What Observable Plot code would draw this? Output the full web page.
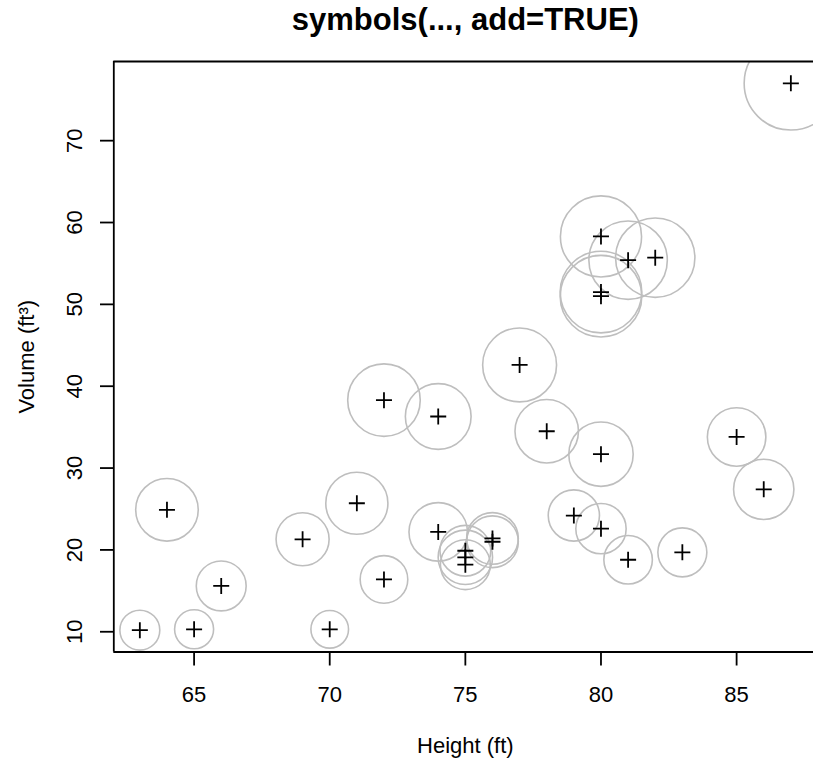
<!DOCTYPE html>
<html>
<head>
<meta charset="utf-8">
<script src="https://cdn.jsdelivr.net/npm/d3@7"></script>
<script src="https://cdn.jsdelivr.net/npm/@observablehq/plot@0.6"></script>
<style>
  html, body { margin: 0; padding: 0; background: white; }
  #chart { width: 813px; height: 760px; overflow: hidden; }
</style>
</head>
<body>
<div id="chart"></div>
<script>
// trees data (R datasets): Girth (in), Height (ft), Volume (ft^3)
const girth  = [8.3, 8.6, 8.8, 10.5, 10.7, 10.8, 11.0, 11.0, 11.1, 11.2, 11.3, 11.4, 11.4, 11.7, 12.0, 12.9, 12.9, 13.3, 13.7, 13.8, 14.0, 14.2, 14.5, 16.0, 16.3, 17.3, 17.5, 17.9, 18.0, 18.0, 20.6];
const height = [70, 65, 63, 72, 81, 83, 66, 75, 80, 75, 79, 76, 76, 69, 75, 74, 85, 86, 71, 64, 78, 80, 74, 72, 77, 81, 82, 80, 80, 80, 87];
const volume = [10.3, 10.3, 10.2, 16.4, 18.8, 19.7, 15.6, 18.2, 22.6, 19.9, 24.2, 21.0, 21.4, 21.3, 19.1, 22.2, 33.8, 27.4, 25.7, 24.9, 34.5, 31.7, 36.3, 38.3, 42.6, 55.4, 55.7, 58.3, 51.5, 51.0, 77.0];

const xTicks = [65, 70, 75, 80, 85];
const yTicks = [10, 20, 30, 40, 50, 60, 70];

const titleText = "symbols(..., add=TRUE)";
const xLabel = "Height (ft)";
const yLabel = "Volume (ft³)";

const trees = girth.map((g, i) => ({girth: g, height: height[i], volume: volume[i]}));

// R-style axis limits: data range extended by 4% on each side
function rExtend(arr) {
  const [lo, hi] = d3.extent(arr);
  const d = (hi - lo) * 0.04;
  return [lo - d, hi + d];
}
const xDom = rExtend(height);
const yDom = rExtend(volume);

const W = 813, H = 760;
const mLeft = 113.3, mTop = 61, mBottom = 108.5;
const font = "'Liberation Sans', Arial, Helvetica, sans-serif";

const plusSymbol = {
  draw(ctx, size) {
    const h = Math.sqrt(size / Math.PI);
    ctx.moveTo(-h, 0); ctx.lineTo(h, 0);
    ctx.moveTo(0, -h); ctx.lineTo(0, h);
  }
};

const chart = Plot.plot({
  width: W,
  height: H,
  marginLeft: mLeft,
  marginRight: 0,
  marginTop: mTop,
  marginBottom: mBottom,
  style: {fontFamily: font, fontSize: "22px", background: "white", color: "black"},
  x: {domain: xDom, range: [mLeft, 816.4], axis: null},
  y: {domain: yDom, range: [H - mBottom, mTop], axis: null},
  r: {type: "linear", domain: [0, d3.max(girth)], range: [0, 46.7]},
  marks: [
    Plot.dot(trees, {x: "height", y: "volume", r: "girth", stroke: "#bebebe", strokeWidth: 1.6, fill: "none", clip: true, sort: null}),
    Plot.dot(trees, {x: "height", y: "volume", r: 8, symbol: plusSymbol, stroke: "black", strokeWidth: 1.8, fill: "none"}),
    // plot box (top, left, bottom; right edge lies beyond the image)
    Plot.ruleY([yDom[0], yDom[1]], {stroke: "black", strokeWidth: 1.8}),
    Plot.ruleX([xDom[0]], {stroke: "black", strokeWidth: 1.8}),
    Plot.axisX({ticks: xTicks, anchor: "bottom", tickSize: 14, tickPadding: 20.5, fontSize: 22, strokeWidth: 1.8, label: null}),
    Plot.axisY({ticks: yTicks, anchor: "left", tickSize: 13.3, tickPadding: 18.3, tickRotate: -90, fontSize: 22, strokeWidth: 1.8, label: null}),
    Plot.text([titleText], {frameAnchor: "top", text: d => d, dx: 1.7, dy: 29 - mTop, lineAnchor: "bottom", fontSize: 31, fontWeight: "bold", fill: "black"}),
    Plot.text([xLabel], {frameAnchor: "bottom", text: d => d, dx: 1.7, dy: 752.8 - (H - mBottom), lineAnchor: "bottom", fontSize: 22, fill: "black"}),
    Plot.text([yLabel], {frameAnchor: "left", text: d => d, dx: 33 - mLeft, dy: 0, rotate: -90, textAnchor: "middle", lineAnchor: "bottom", fontSize: 22, fill: "black"})
  ]
});
document.getElementById("chart").appendChild(chart);
</script>
</body>
</html>
